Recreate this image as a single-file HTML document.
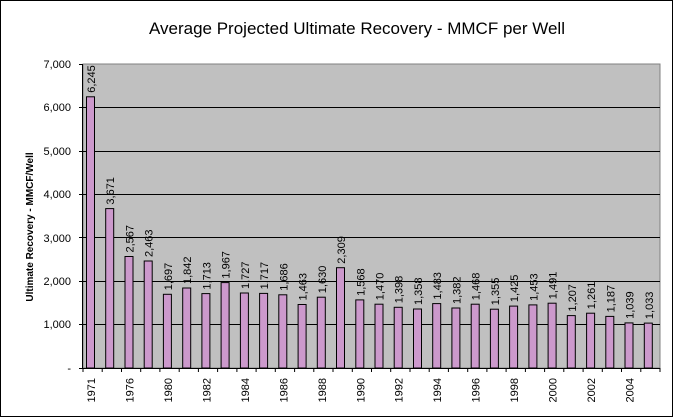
<!DOCTYPE html><html><head><style>body{margin:0;background:#fff}svg{display:block}</style></head><body>
<svg width="673" height="417" xmlns="http://www.w3.org/2000/svg" font-family="Liberation Sans, Arial, sans-serif">
<rect x="0.5" y="0.5" width="672" height="416" fill="#fff" stroke="#000"/>
<text x="357" y="34" font-size="17" text-anchor="middle">Average Projected Ultimate Recovery - MMCF per Well</text>
<rect x="83" y="64" width="577" height="304" fill="#c0c0c0" stroke="#808080"/>
<g stroke="#000" stroke-width="1">
<line x1="83" x2="660" y1="324.5" y2="324.5"/><line x1="83" x2="660" y1="281.5" y2="281.5"/><line x1="83" x2="660" y1="237.5" y2="237.5"/><line x1="83" x2="660" y1="194.5" y2="194.5"/><line x1="83" x2="660" y1="151.5" y2="151.5"/><line x1="83" x2="660" y1="107.5" y2="107.5"/>
<line x1="82.5" x2="82.5" y1="64" y2="368"/><line x1="82" x2="660" y1="368.5" y2="368.5"/>
<line x1="79" x2="83" y1="64.5" y2="64.5"/><line x1="79" x2="83" y1="107.5" y2="107.5"/><line x1="79" x2="83" y1="151.5" y2="151.5"/><line x1="79" x2="83" y1="194.5" y2="194.5"/><line x1="79" x2="83" y1="237.5" y2="237.5"/><line x1="79" x2="83" y1="281.5" y2="281.5"/><line x1="79" x2="83" y1="324.5" y2="324.5"/><line x1="79" x2="83" y1="368.5" y2="368.5"/>
</g>
<g font-size="11" text-anchor="end">
<text x="71" y="68">7,000</text><text x="71" y="111">6,000</text><text x="71" y="155">5,000</text><text x="71" y="198">4,000</text><text x="71" y="242">3,000</text><text x="71" y="285">2,000</text><text x="71" y="328">1,000</text><text x="71" y="372">-</text>
</g>
<text transform="translate(33,227) rotate(-90)" font-size="10" font-weight="bold" text-anchor="middle">Ultimate Recovery - MMCF/Well</text>
<g fill="#cc99cc" stroke="#000">
<rect x="86.5" y="96.8" width="8" height="271.2"/>
<rect x="105.7" y="208.6" width="8" height="159.4"/>
<rect x="125.0" y="256.5" width="8" height="111.5"/>
<rect x="144.2" y="261.0" width="8" height="107.0"/>
<rect x="163.4" y="294.3" width="8" height="73.7"/>
<rect x="182.7" y="288.0" width="8" height="80.0"/>
<rect x="201.9" y="293.6" width="8" height="74.4"/>
<rect x="221.1" y="282.6" width="8" height="85.4"/>
<rect x="240.4" y="293.0" width="8" height="75.0"/>
<rect x="259.6" y="293.4" width="8" height="74.6"/>
<rect x="278.8" y="294.8" width="8" height="73.2"/>
<rect x="298.1" y="304.5" width="8" height="63.5"/>
<rect x="317.3" y="297.2" width="8" height="70.8"/>
<rect x="336.5" y="267.7" width="8" height="100.3"/>
<rect x="355.8" y="299.9" width="8" height="68.1"/>
<rect x="375.0" y="304.2" width="8" height="63.8"/>
<rect x="394.2" y="307.3" width="8" height="60.7"/>
<rect x="413.5" y="309.0" width="8" height="59.0"/>
<rect x="432.7" y="303.6" width="8" height="64.4"/>
<rect x="451.9" y="308.0" width="8" height="60.0"/>
<rect x="471.2" y="304.2" width="8" height="63.8"/>
<rect x="490.4" y="309.2" width="8" height="58.8"/>
<rect x="509.6" y="306.1" width="8" height="61.9"/>
<rect x="528.9" y="304.9" width="8" height="63.1"/>
<rect x="548.1" y="303.2" width="8" height="64.8"/>
<rect x="567.3" y="315.6" width="8" height="52.4"/>
<rect x="586.6" y="313.2" width="8" height="54.8"/>
<rect x="605.8" y="316.4" width="8" height="51.6"/>
<rect x="625.0" y="322.9" width="8" height="45.1"/>
<rect x="644.3" y="323.1" width="8" height="44.9"/>
</g>
<g font-size="11">
<text transform="translate(95.0,92.8) rotate(-90)">6,245</text>
<text transform="translate(114.2,204.6) rotate(-90)">3,671</text>
<text transform="translate(133.5,252.5) rotate(-90)">2,567</text>
<text transform="translate(152.7,257.0) rotate(-90)">2,463</text>
<text transform="translate(171.9,290.3) rotate(-90)">1,697</text>
<text transform="translate(191.2,284.0) rotate(-90)">1,842</text>
<text transform="translate(210.4,289.6) rotate(-90)">1,713</text>
<text transform="translate(229.6,278.6) rotate(-90)">1,967</text>
<text transform="translate(248.9,289.0) rotate(-90)">1,727</text>
<text transform="translate(268.1,289.4) rotate(-90)">1,717</text>
<text transform="translate(287.3,290.8) rotate(-90)">1,686</text>
<text transform="translate(306.6,300.5) rotate(-90)">1,463</text>
<text transform="translate(325.8,293.2) rotate(-90)">1,630</text>
<text transform="translate(345.0,263.7) rotate(-90)">2,309</text>
<text transform="translate(364.3,295.9) rotate(-90)">1,568</text>
<text transform="translate(383.5,300.2) rotate(-90)">1,470</text>
<text transform="translate(402.7,303.3) rotate(-90)">1,398</text>
<text transform="translate(422.0,305.0) rotate(-90)">1,358</text>
<text transform="translate(441.2,299.6) rotate(-90)">1,483</text>
<text transform="translate(460.4,304.0) rotate(-90)">1,382</text>
<text transform="translate(479.7,300.2) rotate(-90)">1,468</text>
<text transform="translate(498.9,305.2) rotate(-90)">1,355</text>
<text transform="translate(518.1,302.1) rotate(-90)">1,425</text>
<text transform="translate(537.4,300.9) rotate(-90)">1,453</text>
<text transform="translate(556.6,299.2) rotate(-90)">1,491</text>
<text transform="translate(575.8,311.6) rotate(-90)">1,207</text>
<text transform="translate(595.1,309.2) rotate(-90)">1,261</text>
<text transform="translate(614.3,312.4) rotate(-90)">1,187</text>
<text transform="translate(633.5,318.9) rotate(-90)">1,039</text>
<text transform="translate(652.8,319.1) rotate(-90)">1,033</text>
</g>
<g stroke="#000">
<line x1="83" x2="83" y1="368" y2="372"/><line x1="102.2" x2="102.2" y1="368" y2="372"/><line x1="121.5" x2="121.5" y1="368" y2="372"/><line x1="140.7" x2="140.7" y1="368" y2="372"/><line x1="159.9" x2="159.9" y1="368" y2="372"/><line x1="179.2" x2="179.2" y1="368" y2="372"/><line x1="198.4" x2="198.4" y1="368" y2="372"/><line x1="217.6" x2="217.6" y1="368" y2="372"/><line x1="236.9" x2="236.9" y1="368" y2="372"/><line x1="256.1" x2="256.1" y1="368" y2="372"/><line x1="275.3" x2="275.3" y1="368" y2="372"/><line x1="294.6" x2="294.6" y1="368" y2="372"/><line x1="313.8" x2="313.8" y1="368" y2="372"/><line x1="333.0" x2="333.0" y1="368" y2="372"/><line x1="352.3" x2="352.3" y1="368" y2="372"/><line x1="371.5" x2="371.5" y1="368" y2="372"/><line x1="390.7" x2="390.7" y1="368" y2="372"/><line x1="410.0" x2="410.0" y1="368" y2="372"/><line x1="429.2" x2="429.2" y1="368" y2="372"/><line x1="448.4" x2="448.4" y1="368" y2="372"/><line x1="467.7" x2="467.7" y1="368" y2="372"/><line x1="486.9" x2="486.9" y1="368" y2="372"/><line x1="506.1" x2="506.1" y1="368" y2="372"/><line x1="525.4" x2="525.4" y1="368" y2="372"/><line x1="544.6" x2="544.6" y1="368" y2="372"/><line x1="563.8" x2="563.8" y1="368" y2="372"/><line x1="583.1" x2="583.1" y1="368" y2="372"/><line x1="602.3" x2="602.3" y1="368" y2="372"/><line x1="621.5" x2="621.5" y1="368" y2="372"/><line x1="640.8" x2="640.8" y1="368" y2="372"/><line x1="660" x2="660" y1="368" y2="372"/>
</g>
<g font-size="11" text-anchor="end">
<text transform="translate(95.0,378) rotate(-90)">1971</text>
<text transform="translate(133.5,378) rotate(-90)">1976</text>
<text transform="translate(171.9,378) rotate(-90)">1980</text>
<text transform="translate(210.4,378) rotate(-90)">1982</text>
<text transform="translate(248.9,378) rotate(-90)">1984</text>
<text transform="translate(287.3,378) rotate(-90)">1986</text>
<text transform="translate(325.8,378) rotate(-90)">1988</text>
<text transform="translate(364.3,378) rotate(-90)">1990</text>
<text transform="translate(402.7,378) rotate(-90)">1992</text>
<text transform="translate(441.2,378) rotate(-90)">1994</text>
<text transform="translate(479.7,378) rotate(-90)">1996</text>
<text transform="translate(518.1,378) rotate(-90)">1998</text>
<text transform="translate(556.6,378) rotate(-90)">2000</text>
<text transform="translate(595.1,378) rotate(-90)">2002</text>
<text transform="translate(633.5,378) rotate(-90)">2004</text>
</g>
</svg></body></html>
